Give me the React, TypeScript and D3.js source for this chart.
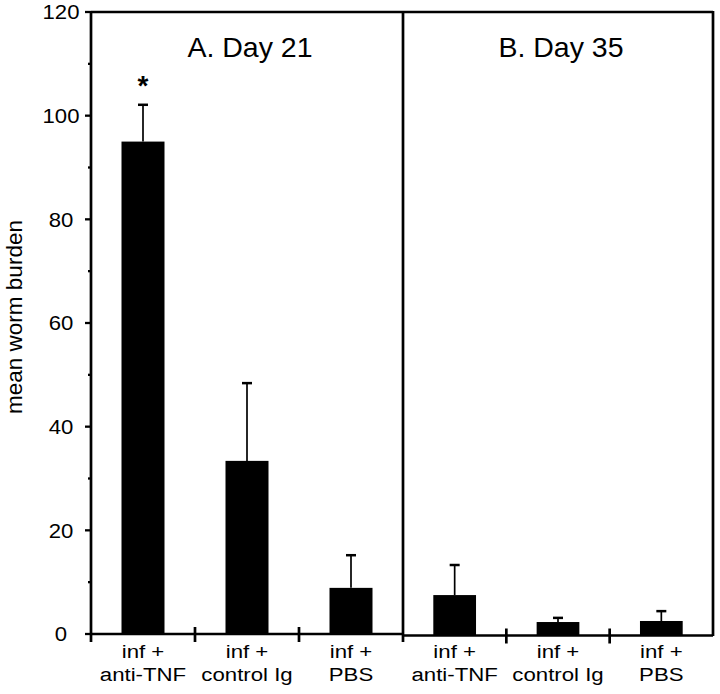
import React from "react";
import * as d3 from "d3";

const yTicks = [0, 20, 40, 60, 80, 100, 120];
const minorTicks = [10, 30, 50, 70, 90, 110];
const catLine1 = ["inf +", "inf +", "inf +"];
const catLine2 = ["anti-TNF", "control Ig", "PBS"];
const day21Means = [95, 33.4, 8.9];
const day21Err = [7.1, 15, 6.3];
const day35Means = [7.8, 2.6, 2.8];
const day35Err = [5.8, 0.8, 1.9];
const panelTitles = ["A. Day 21", "B. Day 35"];
const yLabel = "mean worm burden";

const W = 720;
const H = 694;
const left = 91;
const mid = 403;
const right = 713;
const top = 12;
const base = 634;
const font = "'Liberation Sans', Arial, Helvetica, sans-serif";

export default function App() {
  const y = d3.scaleLinear().domain([0, 120]).range([base, top]);
  const pad = 1 - 43 / 104;
  const xA = d3.scaleBand<number>().domain([0, 1, 2]).range([left, mid]).paddingInner(pad).paddingOuter(pad / 2);
  const xB = d3.scaleBand<number>().domain([0, 1, 2]).range([mid, right]).paddingInner(pad).paddingOuter(pad / 2);
  const panels = [
    { x: xA, means: day21Means, err: day21Err, x0: left, x1: mid, base: base },
    { x: xB, means: day35Means, err: day35Err, x0: mid, x1: right, base: base + 1.5 },
  ];
  const sw = 2.7;
  return (
    <svg width={W} height={H} style={{ position: "absolute", left: 0, top: 0, background: "#fff" }}>
      <rect x={0} y={0} width={W} height={H} fill="#fff" />
      {yTicks.map((t) => (
        <text key={"yl" + t} x={61} y={y(t) + 7.5} textAnchor="middle" fontFamily={font} fontSize={20.5}
          transform={`translate(61,0) scale(1.08,1) translate(-61,0)`}>
          {t}
        </text>
      ))}
      {yTicks.map((t) => (
        <line key={"yt" + t} x1={85} x2={left} y1={y(t)} y2={y(t)} stroke="#000" strokeWidth={2.3} />
      ))}
      {minorTicks.map((t) => (
        <line key={"ym" + t} x1={88} x2={left} y1={y(t)} y2={y(t)} stroke="#000" strokeWidth={2.3} />
      ))}
      <text transform={`translate(22,317) rotate(-90)`} textAnchor="middle" fontFamily={font} fontSize={22.5}>
        {yLabel}
      </text>
      <line x1={left} x2={left} y1={top - 1} y2={base + 8} stroke="#000" strokeWidth={sw} />
      <line x1={left} x2={right} y1={top} y2={top} stroke="#000" strokeWidth={sw} />
      <line x1={right} x2={right} y1={top - 1} y2={base + 2} stroke="#000" strokeWidth={sw} />
      <line x1={mid} x2={mid} y1={top - 1} y2={base + 8} stroke="#000" strokeWidth={sw} />
      {panels.map((p, pi) => (
        <g key={"p" + pi}>
          <line x1={p.x0} x2={p.x1} y1={p.base} y2={p.base} stroke="#000" strokeWidth={sw} />
          {[1, 2].map((i) => {
            const xx = (p.x(i) as number) - (p.x.step() - p.x.bandwidth()) / 2;
            return <line key={"ct" + i} x1={xx} x2={xx} y1={p.base - 7} y2={p.base + 8} stroke="#000" strokeWidth={sw} />;
          })}
          {p.means.map((m, i) => {
            const bx = p.x(i) as number;
            const bw = p.x.bandwidth();
            const cx = bx + bw / 2;
            const yTop = y(m) + (p.base - base);
            const yErr = y(m + p.err[i]) + (p.base - base);
            return (
              <g key={"b" + i}>
                <line x1={cx} x2={cx} y1={yTop} y2={yErr} stroke="#000" strokeWidth={1.7} />
                <line x1={cx - 5} x2={cx + 5} y1={yErr} y2={yErr} stroke="#000" strokeWidth={2.5} />
                <rect x={bx} y={yTop} width={bw} height={p.base - yTop} fill="#000" />
                <text x={cx} y={658.5} textAnchor="middle" fontFamily={font} fontSize={19}
                  transform={`translate(${cx},0) scale(1.17,1) translate(${-cx},0)`}>
                  {catLine1[i]}
                </text>
                <text x={cx} y={681} textAnchor="middle" fontFamily={font} fontSize={19}
                  transform={`translate(${cx},0) scale(1.17,1) translate(${-cx},0)`}>
                  {catLine2[i]}
                </text>
              </g>
            );
          })}
          <text x={pi === 0 ? 250 : 561} y={57} textAnchor="middle" fontFamily={font} fontSize={28.5}>
            {panelTitles[pi]}
          </text>
        </g>
      ))}
      <text x={(xA(0) as number) + xA.bandwidth() / 2} y={y(day21Means[0] + day21Err[0]) - 10} textAnchor="middle"
        fontFamily={font} fontSize={28} fontWeight="bold">
        *
      </text>
    </svg>
  );
}
